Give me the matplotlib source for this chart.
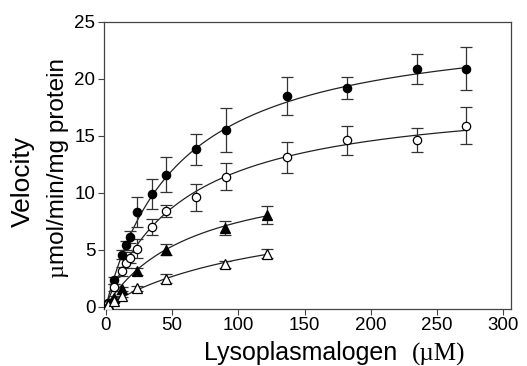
import numpy as np
import matplotlib
matplotlib.use("Agg")
import matplotlib.pyplot as plt

# Data
x_circ = [2, 6, 12, 15, 18, 23.5, 34.5, 45.5, 68, 91, 137, 182, 235, 272]
y_fcirc = [0.3, 2.3, 4.56, 5.4, 6.1, 8.3, 9.9, 11.6, 13.8, 15.5, 18.5, 19.2, 20.85, 20.9]
e_fcirc = [0.1, 0.3, 0.4, 0.4, 0.5, 1.3, 1.3, 1.5, 1.35, 1.95, 1.7, 0.95, 1.3, 1.9]
y_ocirc = [0.2, 1.7, 3.1, 3.8, 4.3, 5.1, 7.0, 8.4, 9.6, 11.4, 13.1, 14.6, 14.6, 15.9]
e_ocirc = [0.1, 0.3, 0.4, 0.4, 0.5, 0.8, 0.7, 0.5, 1.2, 1.2, 1.4, 1.3, 1.05, 1.6]

x_tri = [2, 6, 12, 23.5, 45.5, 90, 122]
y_ftri = [0.2, 0.8, 1.55, 3.1, 5.0, 6.9, 8.05]
e_ftri = [0.1, 0.15, 0.2, 0.3, 0.5, 0.65, 0.8]
y_otri = [0.1, 0.5, 0.96, 1.6, 2.45, 3.7, 4.65]
e_otri = [0.05, 0.1, 0.15, 0.2, 0.4, 0.3, 0.4]

# Michaelis-Menten fit parameters (Vmax, Km)
fit_fcirc = (25.3, 55.8)
fit_ocirc = (18.8, 58.3)
fit_ftri = (12.3, 66.0)
fit_otri = (9.45, 128.7)

x_ticks = [0, 50, 100, 150, 200, 250, 300]
y_ticks = [0, 5, 10, 15, 20, 25]

SANS = ['Liberation Sans', 'DejaVu Sans']
SERIF = ['Liberation Serif', 'DejaVu Serif']
plt.rcParams['font.family'] = SANS

fig = plt.figure(figsize=(5.27, 3.66), dpi=100)
ax = fig.add_axes([0.197, 0.156, 0.773, 0.784])

def mm(x, p):
    vm, km = p
    return vm * x / (km + x)

series = [
    (x_circ, y_fcirc, e_fcirc, fit_fcirc, 'o', 'black'),
    (x_circ, y_ocirc, e_ocirc, fit_ocirc, 'o', 'white'),
    (x_tri, y_ftri, e_ftri, fit_ftri, '^', 'black'),
    (x_tri, y_otri, e_otri, fit_otri, '^', 'white'),
]
for xs, ys, es, p, m, fc in series:
    xx = np.linspace(0, max(xs), 300)
    ax.plot(xx, mm(xx, p), color='#222222', lw=0.9, zorder=2)
    ax.errorbar(xs, ys, yerr=es, fmt='none', ecolor='#333333', elinewidth=0.9,
                capsize=4, capthick=0.9, zorder=3)
    ax.plot(xs, ys, linestyle='none', marker=m, markersize=6 if m == 'o' else 6.5,
            markerfacecolor=fc, markeredgecolor='black', markeredgewidth=0.9, zorder=4)

ax.set_xlim(-1.5, 306)
ax.set_ylim(-0.2, 25)
ax.set_xticks(x_ticks)
ax.set_yticks(y_ticks)
ax.tick_params(labelsize=13.5, length=4, width=0.8, color='#444444', direction='out', pad=2)
for s in ax.spines.values():
    s.set_color('#444444')
    s.set_linewidth(0.9)

# x label: sans part + serif "(µM)"
fig.canvas.draw()
r = fig.canvas.get_renderer()
t1 = fig.text(0.388, 0.016, 'Lysoplasmalogen  ', fontsize=18, ha='left', va='baseline')
bb = t1.get_window_extent(renderer=r)
fig.text(bb.x1 / fig.bbox.width, 0.016, '(µM)', fontsize=18, ha='left', va='baseline',
         family=SERIF)

# y labels
fig.text(0.044, 0.503, 'Velocity', rotation=90, fontsize=19, ha='center', va='center')
# second line: serif µ then sans rest
mu = fig.text(0.11, 0.24, 'µ', rotation=90, fontsize=17.5, ha='center', va='bottom',
              family=SERIF)
bb = mu.get_window_extent(renderer=r)
fig.text(0.11, bb.y1 / fig.bbox.height, 'mol/min/mg protein', rotation=90, fontsize=17.5,
         ha='center', va='bottom')

fig.savefig('out.png', dpi=100)
